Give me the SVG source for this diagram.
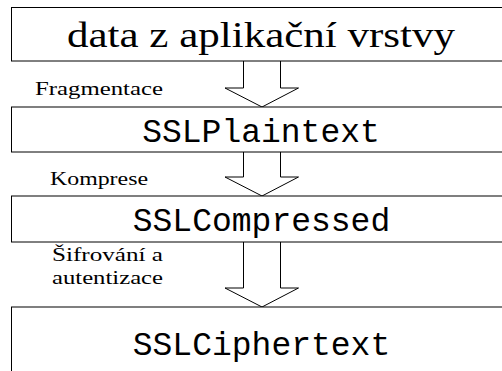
<svg xmlns="http://www.w3.org/2000/svg" width="502" height="371" viewBox="0 0 502 371">
<style>
.box{fill:#fff;stroke:#000;stroke-width:1}
.arr{fill:#fff;stroke:#000;stroke-width:1;stroke-linejoin:miter}
.rm{font-family:"Liberation Serif","DejaVu Serif",serif;fill:#000}
.tt{font-family:"Liberation Mono","DejaVu Sans Mono",monospace;font-size:33px;fill:#000;text-anchor:middle}
.lbl{font-size:19px}
</style>
<rect width="502" height="371" fill="#fff"/>
<g id="connectors">
<path class="arr" d="M243.5,61 V88 H225 L262,107 L298.5,88 H280.5 V61"/>
<path class="arr" d="M243.5,152 V177 H225 L262,196 L298.5,177 H280.5 V152"/>
<path class="arr" d="M243.5,242 V288 H225 L262,307 L298.5,288 H280.5 V242"/>
</g>
<g id="n1">
<rect class="box" x="11.5" y="7.5" width="510" height="53.5"/>
<text class="rm" x="67" y="47" font-size="35" textLength="388" lengthAdjust="spacingAndGlyphs">data z aplikační vrstvy</text>
</g>
<g id="n2">
<rect class="box" x="11.5" y="107" width="510" height="45"/>
<text class="tt" x="261" y="142">SSLPlaintext</text>
</g>
<g id="n3">
<rect class="box" x="11.5" y="196" width="510" height="46"/>
<text class="tt" x="261.5" y="231">SSLCompressed</text>
</g>
<g id="n4">
<rect class="box" x="11.5" y="307" width="510" height="80"/>
<text class="tt" x="261.5" y="355">SSLCiphertext</text>
</g>
<g id="labels">
<text class="rm lbl" x="35" y="95" textLength="128" lengthAdjust="spacingAndGlyphs">Fragmentace</text>
<text class="rm lbl" x="50" y="185" textLength="98" lengthAdjust="spacingAndGlyphs">Komprese</text>
<text class="rm lbl" x="52" y="261" textLength="111" lengthAdjust="spacingAndGlyphs">Šifrování a</text>
<text class="rm lbl" x="52" y="284" textLength="111" lengthAdjust="spacingAndGlyphs">autentizace</text>
</g>
</svg>
